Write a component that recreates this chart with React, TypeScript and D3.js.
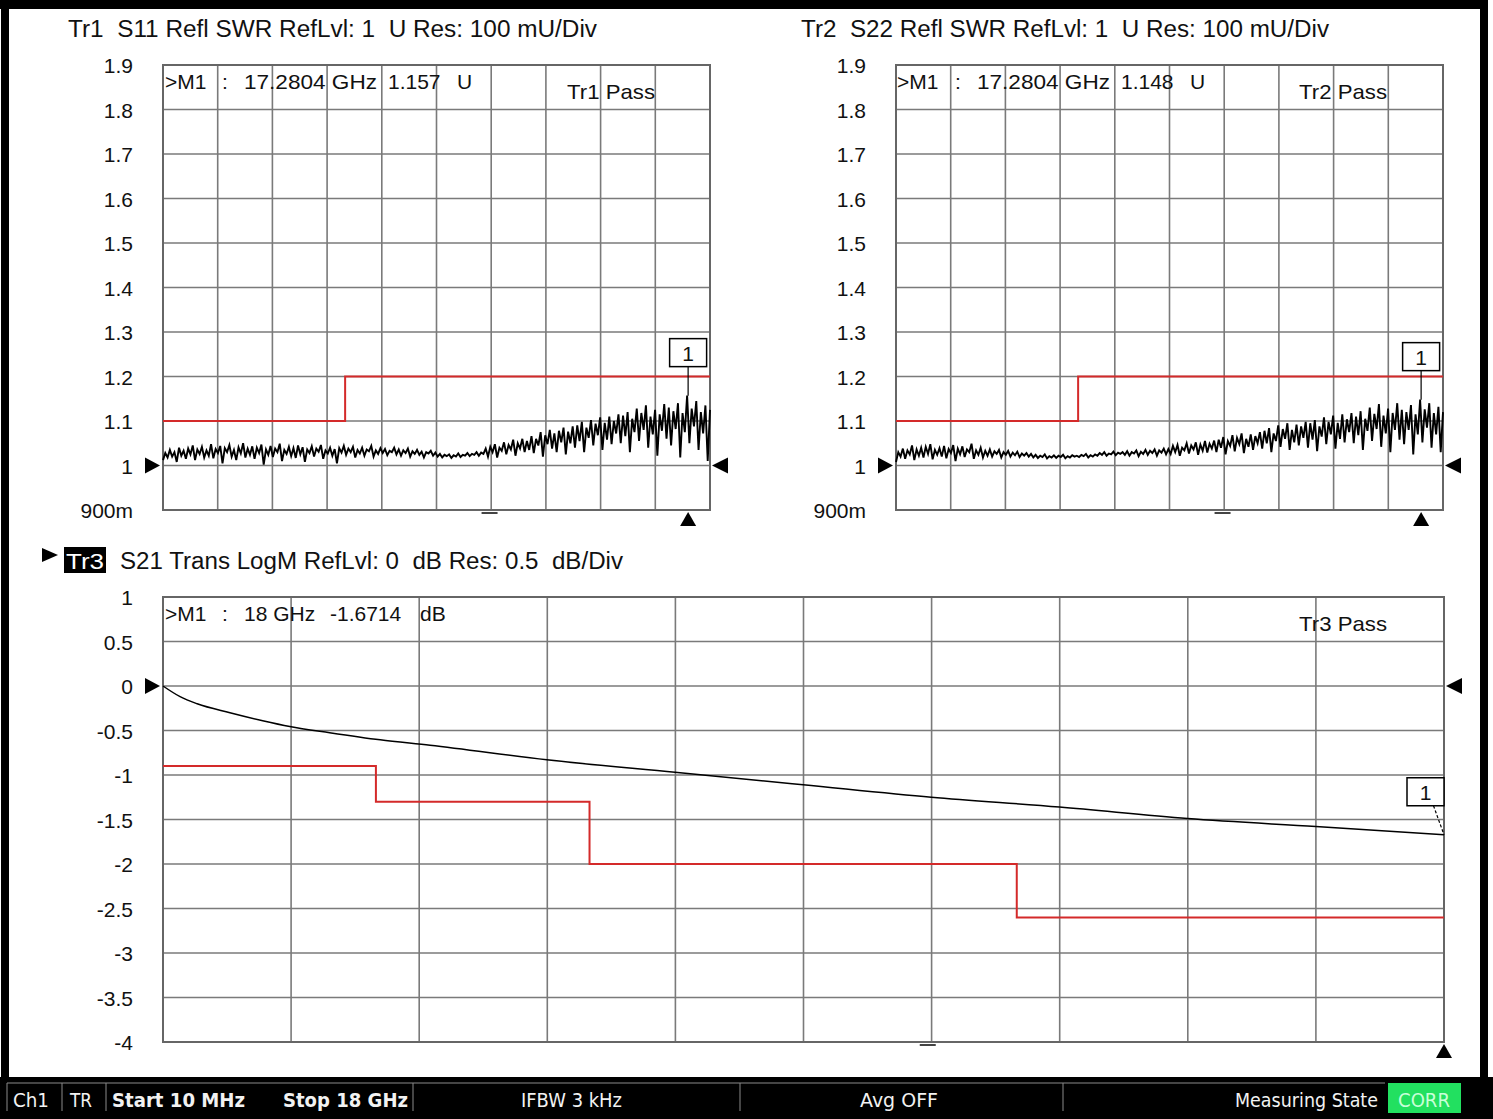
import React from 'react';
import * as d3 from 'd3';

// sweep
const START_GHZ = 0.01;
const STOP_GHZ = 18;
const SWEEP_MARK_GHZ = 10.75;

// axis labels
const SWR_TICK_VALUES = [1.9, 1.8, 1.7, 1.6, 1.5, 1.4, 1.3, 1.2, 1.1, 1, 0.9];
const SWR_TICK_LABELS = ['1.9', '1.8', '1.7', '1.6', '1.5', '1.4', '1.3', '1.2', '1.1', '1', '900m'];
const DB_TICK_VALUES = [1, 0.5, 0, -0.5, -1, -1.5, -2, -2.5, -3, -3.5, -4];
const DB_TICK_LABELS = ['1', '0.5', '0', '-0.5', '-1', '-1.5', '-2', '-2.5', '-3', '-3.5', '-4'];

// S11 SWR samples in mU, evenly spaced from start to stop
const S11_MU = [
  1012, 1028, 1018, 1035, 1020, 1030, 1008, 1040, 1022, 1033, 1015, 1038, 1025, 1045, 1012, 1036, 1026, 1042, 1018, 1034,
  1022, 1048, 1016, 1037, 1028, 1044, 1005, 1039, 1030, 1046, 1020, 1035, 1012, 1041, 1027, 1050, 1018, 1038, 1024, 1043,
  1015, 1040, 1028, 1047, 1002, 1036, 1024, 1044, 1019, 1038, 1030, 1049, 1010, 1035, 1026, 1042, 1021, 1039, 1017, 1045,
  1025, 1041, 1008, 1036, 1028, 1043, 1020, 1038, 1031, 1046, 1015, 1034, 1027, 1040, 1022, 1037, 1005, 1039, 1029, 1044,
  1024, 1038, 1030, 1042, 1018, 1035, 1027, 1040, 1022, 1036, 1032, 1044, 1020, 1034, 1026, 1039, 1028, 1037, 1023, 1033,
  1030, 1040, 1025, 1036, 1022, 1034, 1028, 1038, 1020, 1032, 1026, 1035, 1024, 1031, 1018, 1030, 1027, 1033, 1022, 1029,
  1020, 1026, 1018, 1024, 1021, 1025, 1017, 1023, 1020, 1027, 1019, 1024, 1022, 1028, 1021, 1026, 1024, 1030, 1022, 1029,
  1026, 1038, 1020, 1042, 1030, 1048, 1018, 1040, 1033, 1052, 1025, 1046, 1036, 1058, 1022, 1050, 1038, 1060, 1030, 1055,
  1035, 1066, 1028, 1060, 1045, 1075, 1020, 1068, 1048, 1080, 1038, 1072, 1030, 1078, 1052, 1085, 1025, 1076, 1050, 1088,
  1040, 1090, 1055, 1098, 1030, 1085, 1062, 1102, 1045, 1094, 1068, 1108, 1035, 1096, 1058, 1110, 1048, 1100, 1072, 1115,
  1050, 1112, 1066, 1120, 1030, 1105, 1075, 1128, 1055, 1118, 1080, 1135, 1040, 1110, 1070, 1125, 1022, 1115, 1078, 1138,
  1060, 1130, 1045, 1122, 1082, 1140, 1018, 1118, 1075, 1157, 1050, 1128, 1088, 1145, 1035, 1120, 1072, 1135, 1010, 1125,
];

// S22 SWR samples in mU
const S22_MU = [
  1008, 1030, 1020, 1038, 1015, 1034, 1025, 1045, 1012, 1036, 1022, 1040, 1018, 1042, 1026, 1048, 1014, 1035, 1024, 1039,
  1020, 1044, 1016, 1037, 1028, 1046, 1010, 1038, 1025, 1043, 1019, 1036, 1030, 1049, 1015, 1034, 1024, 1040, 1018, 1033,
  1022, 1036, 1020, 1032, 1026, 1035, 1018, 1030, 1024, 1033, 1020, 1029, 1023, 1031, 1019, 1027, 1022, 1028, 1020, 1026,
  1018, 1024, 1017, 1022, 1019, 1025, 1016, 1021, 1018, 1023, 1017, 1022, 1019, 1024, 1016, 1021, 1018, 1023, 1020, 1022,
  1019, 1024, 1021, 1026, 1018, 1023, 1020, 1025, 1022, 1028, 1024, 1030, 1022, 1027, 1025, 1031, 1023, 1029, 1026, 1030,
  1024, 1032, 1022, 1030, 1027, 1034, 1021, 1031, 1026, 1035, 1024, 1033, 1028, 1036, 1022, 1034, 1029, 1038, 1025, 1037,
  1026, 1044, 1030, 1046, 1022, 1040, 1034, 1050, 1027, 1045, 1036, 1052, 1024, 1047, 1033, 1055, 1029, 1049, 1038, 1056,
  1030, 1058, 1040, 1064, 1025, 1055, 1044, 1068, 1032, 1062, 1048, 1072, 1028, 1060, 1042, 1070, 1035, 1066, 1050, 1075,
  1038, 1078, 1050, 1084, 1030, 1072, 1055, 1090, 1042, 1082, 1060, 1095, 1035, 1080, 1052, 1092, 1045, 1088, 1062, 1098,
  1040, 1095, 1058, 1102, 1032, 1088, 1065, 1108, 1048, 1098, 1070, 1112, 1038, 1096, 1060, 1115, 1052, 1104, 1075, 1118,
  1050, 1110, 1068, 1122, 1035, 1105, 1078, 1130, 1055, 1116, 1082, 1138, 1042, 1112, 1072, 1128, 1030, 1118, 1080, 1140,
  1058, 1125, 1048, 1120, 1080, 1136, 1025, 1115, 1070, 1148, 1052, 1126, 1085, 1140, 1040, 1118, 1070, 1132, 1030, 1120,
];

// S21 transmission
const S21_FREQ = [0.01, 0.25, 0.49, 0.95, 1.41, 1.79, 2.35, 3.06, 3.76, 5.4, 7.2, 9.0, 10.8, 12.6, 14.4, 16.2, 18];
const S21_DB = [0, -0.12, -0.2, -0.3, -0.39, -0.455, -0.525, -0.605, -0.665, -0.83, -0.97, -1.11, -1.25, -1.36, -1.49, -1.58, -1.6714];

// limit lines
const S11_LIMIT = [
  { from: 0.01, to: 6, value: 1.1 },
  { from: 6, to: 18, value: 1.2 },
];
const S22_LIMIT = [
  { from: 0.01, to: 6, value: 1.1 },
  { from: 6, to: 18, value: 1.2 },
];
const S21_LIMIT = [
  { from: 0.01, to: 3, value: -0.9 },
  { from: 3, to: 6, value: -1.3 },
  { from: 6, to: 12, value: -2.0 },
  { from: 12, to: 18, value: -2.6 },
];

const S11_MARKER = { freq: 17.2804, value: 1.157 };
const S22_MARKER = { freq: 17.2804, value: 1.148 };
const S21_MARKER = { freq: 18, value: -1.6714 };

const FONT = '"Liberation Sans", Arial, sans-serif';
const GRID = '#7a7a7a';
const RED = '#d42a2a';

type Seg = { from: number; to: number; value: number };
type Box = { x0: number; x1: number; y0: number; y1: number };

const limitPoints = (segs: Seg[]) => segs.flatMap(s => [[s.from, s.value], [s.to, s.value]] as [number, number][]);

const T = (p: any) => <text fontFamily={FONT} fill="#111" style={{ whiteSpace: 'pre' }} {...p} />;

function Panel(props: {
  box: Box; yDomain: [number, number]; tickValues: number[]; tickLabels: string[];
  refLevel: number; trace: [number, number][]; limit: Seg[]; marker: { freq: number; value: number };
  smooth?: boolean; traceWidth?: number; children?: React.ReactNode;
}) {
  const { box, yDomain, tickValues, tickLabels, refLevel, trace, limit, marker } = props;
  const x = d3.scaleLinear().domain([START_GHZ, STOP_GHZ]).range([box.x0, box.x1]);
  const y = d3.scaleLinear().domain(yDomain).range([box.y1, box.y0]);
  const line = d3.line<[number, number]>().x(d => x(d[0])).y(d => y(d[1]));
  const traceLine = d3.line<[number, number]>().x(d => x(d[0])).y(d => y(d[1]))
    .curve(props.smooth ? d3.curveMonotoneX : d3.curveLinear);
  const vgrid = d3.range(11).map(k => START_GHZ + (k * (STOP_GHZ - START_GHZ)) / 10);
  const xm = x(marker.freq);
  const ym = y(marker.value);
  const bw = 37, bh = 28;
  const bx = Math.min(xm - bw / 2, box.x1 - bw);
  const by = ym - 29 - bh;
  const yr = y(refLevel);
  const xd = x(SWEEP_MARK_GHZ);
  return (
    <g>
      {vgrid.map((f, i) => (
        <line key={'v' + i} x1={x(f)} x2={x(f)} y1={box.y0} y2={box.y1} stroke={GRID} strokeWidth={1.6} />
      ))}
      {tickValues.map((v, i) => (
        <line key={'h' + i} x1={box.x0} x2={box.x1} y1={y(v)} y2={y(v)} stroke={GRID} strokeWidth={1.6} />
      ))}
      <rect x={box.x0} y={box.y0} width={box.x1 - box.x0} height={box.y1 - box.y0} fill="none" stroke="#666" strokeWidth={2} />
      {tickValues.map((v, i) => (
        <T key={'t' + i} x={box.x0 - 30} y={y(v) + 8} fontSize={21} textAnchor="end">{tickLabels[i]}</T>
      ))}
      <path d={line(limitPoints(limit)) || ''} fill="none" stroke={RED} strokeWidth={2} />
      <path d={traceLine(trace) || ''} fill="none" stroke="#000" strokeWidth={props.traceWidth ?? 1.5} strokeLinejoin="miter" />
      {/* reference level arrows */}
      <polygon points={`${box.x0 - 18},${yr - 8} ${box.x0 - 3},${yr} ${box.x0 - 18},${yr + 8}`} fill="#000" />
      <polygon points={`${box.x1 + 2},${yr} ${box.x1 + 18},${yr - 8} ${box.x1 + 18},${yr + 8}`} fill="#000" />
      {/* marker */}
      <line x1={bx + bw / 2 + (xm >= box.x1 ? 8 : 0)} y1={by + bh} x2={xm} y2={ym} stroke="#000" strokeWidth={1.2}
        strokeDasharray={xm >= box.x1 ? '3,2' : undefined} />
      <rect x={bx} y={by} width={bw} height={bh} fill="#fff" stroke="#000" strokeWidth={1.5} />
      <T x={bx + bw / 2} y={by + 22} fontSize={21} textAnchor="middle">1</T>
      <polygon points={`${xm},${box.y1 + 2} ${xm - 8},${box.y1 + 16} ${xm + 8},${box.y1 + 16}`} fill="#000" />
      <line x1={xd - 8} x2={xd + 8} y1={box.y1 + 3} y2={box.y1 + 3} stroke="#444" strokeWidth={2} />
      {props.children}
    </g>
  );
}

const sweep = (mu: number[]): [number, number][] =>
  mu.map((v, i) => [START_GHZ + (i * (STOP_GHZ - START_GHZ)) / (mu.length - 1), v / 1000]);

export default function App() {
  const left: Box = { x0: 163, x1: 710, y0: 65, y1: 510 };
  const right: Box = { x0: 896, x1: 1443, y0: 65, y1: 510 };
  const bottom: Box = { x0: 163, x1: 1444, y0: 597, y1: 1042 };
  const s21 = S21_FREQ.map((f, i) => [f, S21_DB[i]] as [number, number]);
  const W = 1493, H = 1119;
  const statusDividers = [7, 62, 106, 413, 740, 1063];
  return (
    <div style={{ position: 'absolute', left: 0, top: 0, width: W, height: H, background: '#fff' }}>
      <svg width={W} height={H} viewBox={`0 0 ${W} ${H}`} style={{ display: 'block' }}>
        <rect width={W} height={H} fill="#fff" />
        {/* frame */}
        <rect x={0} y={0} width={1482} height={9} fill="#000" />
        <rect x={1} y={0} width={8} height={1078} fill="#000" />
        <rect x={1480} y={0} width={8} height={1078} fill="#000" />

        <T x={68} y={37} fontSize={23} textLength={529} lengthAdjust="spacingAndGlyphs">Tr1  S11 Refl SWR RefLvl: 1  U Res: 100 mU/Div</T>
        <T x={801} y={37} fontSize={23} textLength={528} lengthAdjust="spacingAndGlyphs">Tr2  S22 Refl SWR RefLvl: 1  U Res: 100 mU/Div</T>

        <Panel box={left} yDomain={[0.9, 1.9]} tickValues={SWR_TICK_VALUES} tickLabels={SWR_TICK_LABELS}
          refLevel={1} trace={sweep(S11_MU)} limit={S11_LIMIT} marker={S11_MARKER} traceWidth={1.9}>
          <T x={165} y={89} fontSize={21}>&gt;M1</T>
          <T x={222} y={89} fontSize={21}>:</T>
          <T x={244} y={89} fontSize={21} textLength={133} lengthAdjust="spacingAndGlyphs">17.2804 GHz</T>
          <T x={388} y={89} fontSize={21}>1.157</T>
          <T x={457} y={89} fontSize={21}>U</T>
          <T x={567} y={99} fontSize={21} textLength={88} lengthAdjust="spacingAndGlyphs">Tr1 Pass</T>
        </Panel>

        <Panel box={right} yDomain={[0.9, 1.9]} tickValues={SWR_TICK_VALUES} tickLabels={SWR_TICK_LABELS}
          refLevel={1} trace={sweep(S22_MU)} limit={S22_LIMIT} marker={S22_MARKER} traceWidth={1.9}>
          <T x={897} y={89} fontSize={21}>&gt;M1</T>
          <T x={955} y={89} fontSize={21}>:</T>
          <T x={977} y={89} fontSize={21} textLength={133} lengthAdjust="spacingAndGlyphs">17.2804 GHz</T>
          <T x={1121} y={89} fontSize={21}>1.148</T>
          <T x={1190} y={89} fontSize={21}>U</T>
          <T x={1299} y={99} fontSize={21} textLength={88} lengthAdjust="spacingAndGlyphs">Tr2 Pass</T>
        </Panel>

        {/* Tr3 header */}
        <polygon points="42,548 58,555 42,562" fill="#000" />
        <rect x={64} y={547} width={42} height={26} fill="#000" />
        <T x={66} y={569} fontSize={22} fill="#fff" textLength={38} lengthAdjust="spacingAndGlyphs">Tr3</T>
        <T x={120} y={569} fontSize={23} textLength={503} lengthAdjust="spacingAndGlyphs">S21 Trans LogM RefLvl: 0  dB Res: 0.5  dB/Div</T>

        <Panel box={bottom} yDomain={[-4, 1]} tickValues={DB_TICK_VALUES} tickLabels={DB_TICK_LABELS}
          refLevel={0} trace={s21} limit={S21_LIMIT} marker={S21_MARKER} smooth>
          <T x={165} y={621} fontSize={21}>&gt;M1</T>
          <T x={222} y={621} fontSize={21}>:</T>
          <T x={244} y={621} fontSize={21}>18 GHz</T>
          <T x={330} y={621} fontSize={21}>-1.6714</T>
          <T x={420} y={621} fontSize={21}>dB</T>
          <T x={1299} y={631} fontSize={21} textLength={88} lengthAdjust="spacingAndGlyphs">Tr3 Pass</T>
        </Panel>

        {/* status bar */}
        <rect x={0} y={1077} width={W} height={H - 1077} fill="#000" />
        <line x1={7} x2={1385} y1={1083} y2={1083} stroke="#8a8a8a" strokeWidth={1} />
        {statusDividers.map(d => (
          <line key={d} x1={d} x2={d} y1={1083} y2={1111} stroke="#8a8a8a" strokeWidth={1} />
        ))}
        <g fontFamily='"DejaVu Sans", Verdana, sans-serif' fontSize={19} fill="#f2f2f2" style={{ whiteSpace: 'pre' }}>
          <text x={13} y={1107} textLength={36} lengthAdjust="spacingAndGlyphs">Ch1</text>
          <text x={70} y={1107} textLength={22} lengthAdjust="spacingAndGlyphs">TR</text>
          <text x={112} y={1107} fontWeight="bold" textLength={133} lengthAdjust="spacingAndGlyphs">Start 10 MHz</text>
          <text x={283} y={1107} fontWeight="bold" textLength={125} lengthAdjust="spacingAndGlyphs">Stop 18 GHz</text>
          <text x={521} y={1107} textLength={101} lengthAdjust="spacingAndGlyphs">IFBW 3 kHz</text>
          <text x={860} y={1107} textLength={78} lengthAdjust="spacingAndGlyphs">Avg OFF</text>
          <text x={1235} y={1107} textLength={143} lengthAdjust="spacingAndGlyphs">Measuring State</text>
          <rect x={1388} y={1083} width={73} height={30} fill="#22e060" />
          <text x={1398} y={1107} fill="#c8ffd8" textLength={52} lengthAdjust="spacingAndGlyphs">CORR</text>
        </g>
      </svg>
    </div>
  );
}
